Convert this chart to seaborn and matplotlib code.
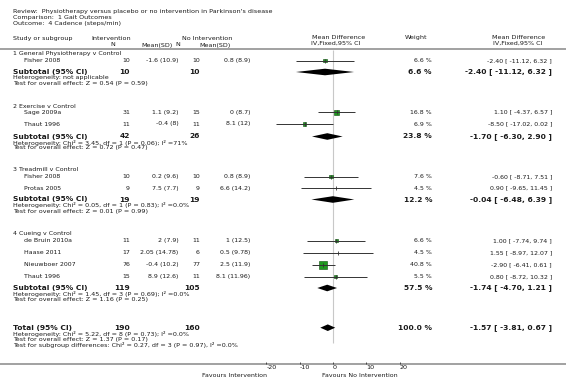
import matplotlib
matplotlib.use('Agg')
import matplotlib.pyplot as plt
import seaborn as sns
import pandas as pd
import numpy as np

# --- data ---
group_names = ['1 General Physiotherapy v Control', '2 Exercise v Control',
               '3 Treadmill v Control', '4 Cueing v Control']
study_names = ['Fisher 2008', 'Sage 2009a', 'Thaut 1996', 'Fisher 2008', 'Protas 2005',
               'de Bruin 2010a', 'Haase 2011', 'Nieuwboer 2007', 'Thaut 1996']
study_group = [0, 1, 1, 2, 2, 3, 3, 3, 3]
int_n = [10, 31, 11, 10, 9, 11, 17, 76, 15]
int_mean_sd = ['-1.6 (10.9)', '1.1 (9.2)', '-0.4 (8)', '0.2 (9.6)', '7.5 (7.7)',
               '2 (7.9)', '2.05 (14.78)', '-0.4 (10.2)', '8.9 (12.6)']
ctl_n = [10, 15, 11, 10, 9, 11, 6, 77, 11]
ctl_mean_sd = ['0.8 (8.9)', '0 (8.7)', '8.1 (12)', '0.8 (8.9)', '6.6 (14.2)',
               '1 (12.5)', '0.5 (9.78)', '2.5 (11.9)', '8.1 (11.96)']
md = [-2.40, 1.10, -8.50, -0.60, 0.90, 1.00, 1.55, -2.90, 0.80]
ci_lo = [-11.12, -4.37, -17.02, -8.71, -9.65, -7.74, -8.97, -6.41, -8.72]
ci_hi = [6.32, 6.57, 0.02, 7.51, 11.45, 9.74, 12.07, 0.61, 10.32]
weight = [6.6, 16.8, 6.9, 7.6, 4.5, 6.6, 4.5, 40.8, 5.5]

sub_int_n = [10, 42, 19, 119]
sub_ctl_n = [10, 26, 19, 105]
sub_md = [-2.40, -1.70, -0.04, -1.74]
sub_lo = [-11.12, -6.30, -6.48, -4.70]
sub_hi = [6.32, 2.90, 6.39, 1.21]
sub_weight = [6.6, 23.8, 12.2, 57.5]
sub_het = ['Heterogeneity: not applicable',
           'Heterogeneity: Chi² = 3.45, df = 1 (P = 0.06); I² =71%',
           'Heterogeneity: Chi² = 0.05, df = 1 (P = 0.83); I² =0.0%',
           'Heterogeneity: Chi² = 1.45, df = 3 (P = 0.69); I² =0.0%']
sub_test = ['Test for overall effect: Z = 0.54 (P = 0.59)',
            'Test for overall effect: Z = 0.72 (P = 0.47)',
            'Test for overall effect: Z = 0.01 (P = 0.99)',
            'Test for overall effect: Z = 1.16 (P = 0.25)']

total_int_n = 190
total_ctl_n = 160
total_md = -1.57
total_lo = -3.81
total_hi = 0.67
total_weight = 100.0
total_notes = ['Heterogeneity: Chi² = 5.22, df = 8 (P = 0.73); I² =0.0%',
               'Test for overall effect: Z = 1.37 (P = 0.17)',
               'Test for subgroup differences: Chi² = 0.27, df = 3 (P = 0.97), I² =0.0%']

x_ticks = [-20, -10, 0, 10, 20]

# --- row layout (pixel rows, top = 0) ---
head_y = [53.5, 106, 169.5, 233.5]
study_y = [60.7, 112.3, 124, 176.7, 188.3, 240.7, 252.5, 264.7, 276.7]
sub_y = [72, 136.5, 199.5, 288]
total_y = 327.7
W, H = 566, 388
axis_y = 364.3

plt.rcParams['axes.unicode_minus'] = False
plt.rcParams['font.family'] = ['DejaVu Sans']

fig = plt.figure(figsize=(W / 100, H / 100), dpi=100)
fig.patch.set_facecolor('white')

# text layer in pixel coordinates
tax = fig.add_axes([0, 0, 1, 1])
tax.set_xlim(0, W)
tax.set_ylim(H, 0)
tax.axis('off')

# forest panel: x in mean difference units, y in pixel rows
px0, px1 = 266.33, 399.67
fax = fig.add_axes([px0 / W, (H - axis_y) / H, (px1 - px0) / W, axis_y / H])
fax.set_xlim(-20, 20)
fax.set_ylim(axis_y, 0)
fax.patch.set_alpha(0)
for sp in fax.spines.values():
    sp.set_visible(False)

txt = '#1a1a1a'
fs_small = 4.6
fs_row = 4.5
fs_bold = 5.4

def t(x, y, s, ha='left', size=fs_row, weight='normal'):
    tax.text(x, y, s, ha=ha, va='center', fontsize=size, fontweight=weight, color=txt)

# title block
t(13, 12, "Review:  Physiotherapy versus placebo or no intervention in Parkinson's disease", size=fs_small)
t(13, 17.5, 'Comparison:  1 Gait Outcomes', size=fs_small)
t(13, 24, 'Outcome:  4 Cadence (steps/min)', size=fs_small)

# column headers
t(13, 38.3, 'Study or subgroup', size=fs_small)
t(111, 38.3, 'Intervention', ha='center', size=fs_small)
t(113, 45, 'N', ha='center', size=fs_small)
t(157, 45, 'Mean(SD)', ha='center', size=fs_small)
t(207, 38.3, 'No Intervention', ha='center', size=fs_small)
t(178, 45, 'N', ha='center', size=fs_small)
t(215, 45, 'Mean(SD)', ha='center', size=fs_small)
t(339, 37.7, 'Mean Difference', ha='center', size=fs_small)
t(336, 43.3, 'IV,Fixed,95% CI', ha='center', size=fs_small)
t(416, 37.7, 'Weight', ha='center', size=fs_small)
t(519, 37.7, 'Mean Difference', ha='center', size=fs_small)
t(518, 43.3, 'IV,Fixed,95% CI', ha='center', size=fs_small)

tax.plot([0, W], [49.3, 49.3], color='#9a9a9a', lw=1.3)
tax.plot([0, W], [axis_y, axis_y], color='#9a9a9a', lw=1.3)

# zero line
fax.vlines(0, 49.5, 343, color='#c8c8c8', lw=0.8, zorder=1)

# study rows
for i, name in enumerate(study_names):
    y = study_y[i]
    t(24, y, name)
    t(130, y, str(int_n[i]), ha='right')
    t(178.5, y, int_mean_sd[i], ha='right')
    t(200, y, str(ctl_n[i]), ha='right')
    t(250, y, ctl_mean_sd[i], ha='right')
    t(432, y, f'{weight[i]:.1f} %', ha='right')
    t(552, y, f'{md[i]:.2f} [ {ci_lo[i]:.2f}, {ci_hi[i]:.2f} ]', ha='right')

studies = pd.DataFrame({'md': md, 'lo': ci_lo, 'hi': ci_hi, 'weight': weight, 'y': study_y})
studies['side_px'] = 1.25 * np.sqrt(studies['weight'])
studies['area'] = (studies['side_px'] / (100 / 72)) ** 2
boxes = studies[studies['weight'] >= 5]
sns.scatterplot(data=boxes, x='md', y='y', size='area',
                sizes=(boxes['area'].min(), boxes['area'].max()),
                marker='s', color='#1f9a1f', edgecolor='#0b4d0b', linewidth=0.4,
                legend=False, ax=fax, zorder=2)
fax.hlines(studies['y'], studies['lo'], studies['hi'], color='#333333', lw=0.7, zorder=3)
fax.scatter(studies['md'], studies['y'], marker='|', s=6, color='#333333', lw=0.6, zorder=3)

def diamond(est, lo, hi, y, h=3.3):
    fax.fill([lo, est, hi, est], [y, y - h, y, y + h], color='black', lw=0, zorder=3)

# subgroup headings and subtotals
for g, name in enumerate(group_names):
    t(13, head_y[g], name)
    y = sub_y[g]
    t(13, y, 'Subtotal (95% CI)', size=fs_bold, weight='bold')
    t(130, y, str(sub_int_n[g]), ha='right', size=fs_bold, weight='bold')
    t(200, y, str(sub_ctl_n[g]), ha='right', size=fs_bold, weight='bold')
    t(432, y, f'{sub_weight[g]:.1f} %', ha='right', size=fs_bold, weight='bold')
    t(552, y, f'{sub_md[g]:.2f} [ {sub_lo[g]:.2f}, {sub_hi[g]:.2f} ]', ha='right',
      size=fs_bold, weight='bold')
    t(13, y + 6, sub_het[g], size=fs_small)
    t(13, y + 11.5, sub_test[g], size=fs_small)
    diamond(sub_md[g], sub_lo[g], sub_hi[g], y)

# overall total
t(13, total_y, 'Total (95% CI)', size=fs_bold, weight='bold')
t(130, total_y, str(total_int_n), ha='right', size=fs_bold, weight='bold')
t(200, total_y, str(total_ctl_n), ha='right', size=fs_bold, weight='bold')
t(432, total_y, f'{total_weight:.1f} %', ha='right', size=fs_bold, weight='bold')
t(552, total_y, f'{total_md:.2f} [ {total_lo:.2f}, {total_hi:.2f} ]', ha='right',
  size=fs_bold, weight='bold')
for k, note in enumerate(total_notes):
    t(13, total_y + 6.5 + 5.5 * k, note, size=fs_small)
diamond(total_md, total_lo, total_hi, total_y)

# x axis
fax.set_yticks([])
fax.set_xticks(x_ticks)
fax.set_xticklabels([str(v) for v in x_ticks])
fax.tick_params(axis='x', direction='in', length=1.6, width=0.6, color='#333333',
                labelsize=fs_small, labelcolor=txt, pad=0.8)
for lbl in fax.get_xticklabels():
    lbl.set_ha('left')
fax.set_xlabel('')
fax.set_ylabel('')

t(266.7, 375.7, 'Favours Intervention', ha='right', size=fs_row)
t(322, 375.7, 'Favours No Intervention', size=fs_row)

plt.savefig('out.png', dpi=100, facecolor='white')
